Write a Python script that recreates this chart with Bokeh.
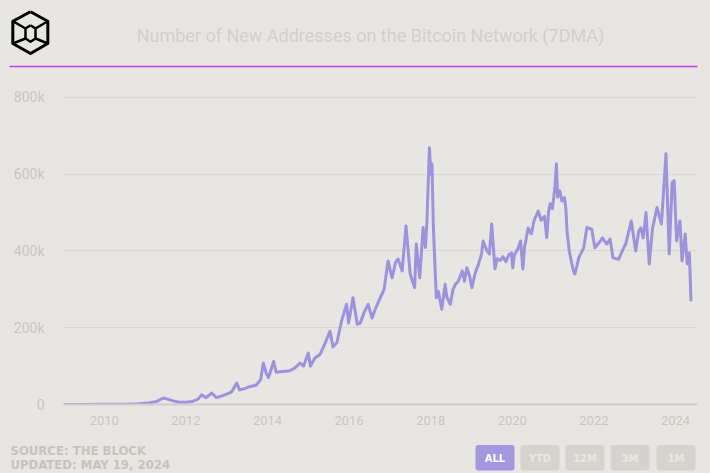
import pandas as pd
from bokeh.plotting import figure
from bokeh.layouts import column
from bokeh.models import (Range1d, FixedTicker, DatetimeTickFormatter,
                          CustomJSTickFormatter, ColumnDataSource, GlobalInlineStyleSheet)
from bokeh.core.properties import value
from bokeh.embed import file_html
from bokeh.resources import INLINE

# ---------------- data ----------------
title_text = "Number of New Addresses on the Bitcoin Network (7DMA)"
source_lines = ["SOURCE: THE BLOCK", "UPDATED: MAY 19, 2024"]
buttons = ["ALL", "YTD", "12M", "3M", "1M"]
y_ticks_k = [0, 200, 400, 600, 800]
x_tick_years = [2010, 2012, 2014, 2016, 2018, 2020, 2022, 2024]

dates = [
    "2009-01-03", "2009-07-01", "2010-01-01", "2010-07-01", "2010-11-01", "2011-02-01",
    "2011-04-15", "2011-06-15", "2011-07-20", "2011-09-01", "2011-11-01", "2012-01-01",
    "2012-03-01", "2012-04-20", "2012-05-20", "2012-06-30", "2012-08-20", "2012-10-01",
    "2012-11-15", "2013-01-01", "2013-02-15", "2013-04-01", "2013-04-25", "2013-06-15",
    "2013-08-01", "2013-09-20", "2013-11-01", "2013-11-25", "2013-12-20", "2014-01-10",
    "2014-02-25", "2014-03-20", "2014-05-20", "2014-07-20", "2014-09-01", "2014-10-20",
    "2014-11-20", "2015-01-01", "2015-01-20", "2015-03-01", "2015-04-15", "2015-06-01",
    "2015-07-15", "2015-08-10", "2015-09-15", "2015-10-25", "2015-12-10", "2015-12-28",
    "2016-02-05", "2016-03-15", "2016-04-10", "2016-05-15", "2016-06-20", "2016-07-25",
    "2016-08-25", "2016-10-05", "2016-11-10", "2016-12-15", "2017-01-20", "2017-02-20",
    "2017-03-15", "2017-04-20", "2017-05-25", "2017-07-01", "2017-08-10", "2017-08-25",
    "2017-09-25", "2017-10-25", "2017-11-15", "2017-11-28", "2017-12-20", "2018-01-03",
    "2018-01-12", "2018-01-25", "2018-02-05", "2018-02-20", "2018-03-10", "2018-04-10",
    "2018-05-10", "2018-05-25", "2018-06-25", "2018-07-20", "2018-08-10", "2018-09-05",
    "2018-10-10", "2018-10-30", "2018-11-20", "2018-12-15", "2019-01-05", "2019-02-01",
    "2019-03-05", "2019-04-01", "2019-04-15", "2019-05-20", "2019-06-10", "2019-07-01",
    "2019-07-30", "2019-08-20", "2019-09-15", "2019-10-10", "2019-11-05", "2019-12-01",
    "2019-12-25", "2020-01-05", "2020-01-20", "2020-02-20", "2020-03-15", "2020-04-05",
    "2020-04-20", "2020-05-22", "2020-06-20", "2020-07-15", "2020-08-20", "2020-09-15",
    "2020-10-15", "2020-11-05", "2020-11-20", "2020-12-05", "2020-12-25", "2021-01-15",
    "2021-01-30", "2021-02-10", "2021-02-28", "2021-03-20", "2021-04-12", "2021-04-25",
    "2021-05-05", "2021-05-25", "2021-06-15", "2021-07-01", "2021-07-15", "2021-08-18",
    "2021-10-01", "2021-10-30", "2021-12-12", "2022-01-10", "2022-02-28", "2022-03-18",
    "2022-04-26", "2022-05-26", "2022-06-20", "2022-08-10", "2022-09-24", "2022-10-12",
    "2022-12-01", "2023-01-10", "2023-02-06", "2023-02-25", "2023-03-18", "2023-04-12",
    "2023-05-11", "2023-06-10", "2023-07-20", "2023-08-28", "2023-10-08", "2023-11-06",
    "2023-12-02", "2023-12-20", "2024-01-11", "2024-02-10", "2024-02-28", "2024-03-28",
    "2024-04-15", "2024-05-04", "2024-05-19",
]
new_addresses_k = [
    0, 0.2, 0.4, 0.8, 2, 4,
    8, 17, 14, 10, 6, 6,
    8, 14, 25, 18, 30, 18,
    22, 27, 33, 56, 38, 42,
    47, 50, 65, 108, 82, 70,
    112, 84, 86, 88, 95, 108,
    100, 134, 100, 121, 130, 160,
    191, 150, 162, 217, 261, 212,
    278, 209, 212, 240, 261, 225,
    250, 277, 300, 374, 330, 370,
    379, 348, 465, 340, 304, 418,
    330, 461, 409, 474, 669, 600,
    627, 461, 382, 278, 295, 248,
    313, 280, 261, 300, 313, 321,
    348, 321, 356, 335, 304, 340,
    366, 392, 426, 400, 392, 470,
    353, 380, 375, 385, 372, 390,
    395, 356, 390, 405, 426, 353,
    410, 460, 445, 480, 504, 480,
    490, 435, 500, 523, 510, 560,
    627, 540, 557, 530, 539, 510,
    452, 400, 370, 348, 340, 382,
    408, 461, 457, 408, 426, 434,
    418, 431, 382, 378, 408, 418,
    478, 400, 452, 460, 434, 500,
    366, 460, 513, 470, 653, 392,
    578, 583, 426, 478, 374, 444,
    366, 395, 269,
]

# ---------------- styles ----------------
BG = "#e8e6e3"
LINE = "#9d93dc"
GRID = "#dad7d3"
TICK_TXT = "#c9c5bf"
TITLE_TXT = "#d3cfca"
SRC_TXT = "#c6c2bc"
PURPLE = "#c03ee6"
W = 710
COND = "DejaVu Sans Condensed"

def blank(h):
    f = figure(width=W, height=h, x_range=Range1d(0, W), y_range=Range1d(h, 0),
               x_axis_location=None, y_axis_location=None, min_border=0,
               output_backend="svg", toolbar_location=None)
    f.frame_align = False
    f.grid.visible = False
    f.outline_line_color = None
    f.background_fill_color = BG
    f.border_fill_color = BG
    return f

# ---------------- header ----------------
header = blank(75)
hx = [30, 47.3, 47.3, 30, 12.3, 12.3, 30]
hy = [11.3, 20.7, 43, 53, 43, 20.7, 11.3]
header.line(hx, hy, line_color="black", line_width=3, line_join="round")
ix = [30, 35, 35, 30, 25, 25, 30]
iy = [24.7, 28, 38, 41.3, 38, 28, 24.7]
header.line(ix, iy, line_color="black", line_width=2.5, line_join="round")
header.multi_line([[12.3, 25], [47.3, 35], [12.3, 25], [47.3, 35]],
                  [[20.7, 28], [20.7, 28], [43, 38], [43, 38]],
                  line_color="black", line_width=2.5)
header.text(x=[370], y=[35], text=[title_text], text_font=value("Roboto"),
            text_font_size="18px", text_color=TITLE_TXT, text_align="center",
            text_baseline="middle")
header.segment(x0=[9], y0=[66], x1=[697], y1=[66], line_color=PURPLE, line_width=1.6)

# ---------------- main chart ----------------
src = ColumnDataSource(dict(date=pd.to_datetime(dates), v=new_addresses_k))
p = figure(width=W, height=362, x_axis_type="datetime",
           x_range=Range1d(pd.Timestamp("2009-01-01"), pd.Timestamp("2024-07-16")),
           y_range=Range1d(0, 831),
           min_border_left=63, min_border_right=13, min_border_top=10, min_border_bottom=33,
           output_backend="svg", toolbar_location=None)
p.frame_align = False
p.background_fill_color = BG
p.border_fill_color = BG
p.outline_line_color = None
p.line("date", "v", source=src, line_color=LINE, line_width=3, line_join="round")

p.xgrid.visible = False
p.ygrid.grid_line_color = GRID
p.ygrid.grid_line_width = 1

p.yaxis.ticker = FixedTicker(ticks=y_ticks_k)
p.yaxis.formatter = CustomJSTickFormatter(code="return tick == 0 ? '0' : tick + 'k';")
p.yaxis.axis_line_color = None
p.yaxis.major_tick_line_color = None
p.yaxis.minor_tick_line_color = None
p.yaxis.major_tick_out = 0
p.yaxis.major_label_standoff = 19
p.yaxis.major_label_text_font = "Roboto"
p.yaxis.major_label_text_font_size = "14px"
p.yaxis.major_label_text_color = TICK_TXT

x_ticks = [pd.Timestamp(f"{y}-01-01").value // 10**6 for y in x_tick_years]
p.xaxis.ticker = FixedTicker(ticks=x_ticks)
p.xaxis.formatter = DatetimeTickFormatter(years="%Y", months="%Y", days="%Y")
p.xaxis.axis_line_color = "#d0cdc9"
p.xaxis.axis_line_width = 2
p.xaxis.major_tick_line_color = None
p.xaxis.minor_tick_line_color = None
p.xaxis.major_tick_out = 0
p.xaxis.major_label_standoff = 11
p.xaxis.major_label_text_font = "Roboto"
p.xaxis.major_label_text_font_size = "13px"
p.xaxis.major_label_text_color = TICK_TXT

# ---------------- footer ----------------
footer = blank(36)
footer.text(x=[10, 10], y=[12.5, 26.5], text=source_lines,
            text_font=value(COND), text_font_style="bold", text_font_size="13px",
            text_color=SRC_TXT, text_align="left", text_baseline="middle")
lefts = [475, 520, 565, 610, 656]
bw = 39
fills = ["#a397e0"] + ["#d6d3ce"] * 4
tcols = ["#ffffff"] + ["#e9e7e3"] * 4
footer.quad(left=lefts, right=[l + bw for l in lefts], top=[7.5] * 5, bottom=[33] * 5,
            fill_color=fills, line_color=None, border_radius=3)
footer.text(x=[l + bw / 2 for l in lefts], y=[20.5] * 5, text=buttons,
            text_font=value(COND), text_font_style="bold",
            text_font_size="11px", text_color=tcols, text_align="center",
            text_baseline="middle")

layout = column(header, p, footer, spacing=0)
layout.stylesheets = [GlobalInlineStyleSheet(css="html, body { background-color: #e8e6e3; }")]

open("out.html", "w").write(file_html(layout, INLINE))
